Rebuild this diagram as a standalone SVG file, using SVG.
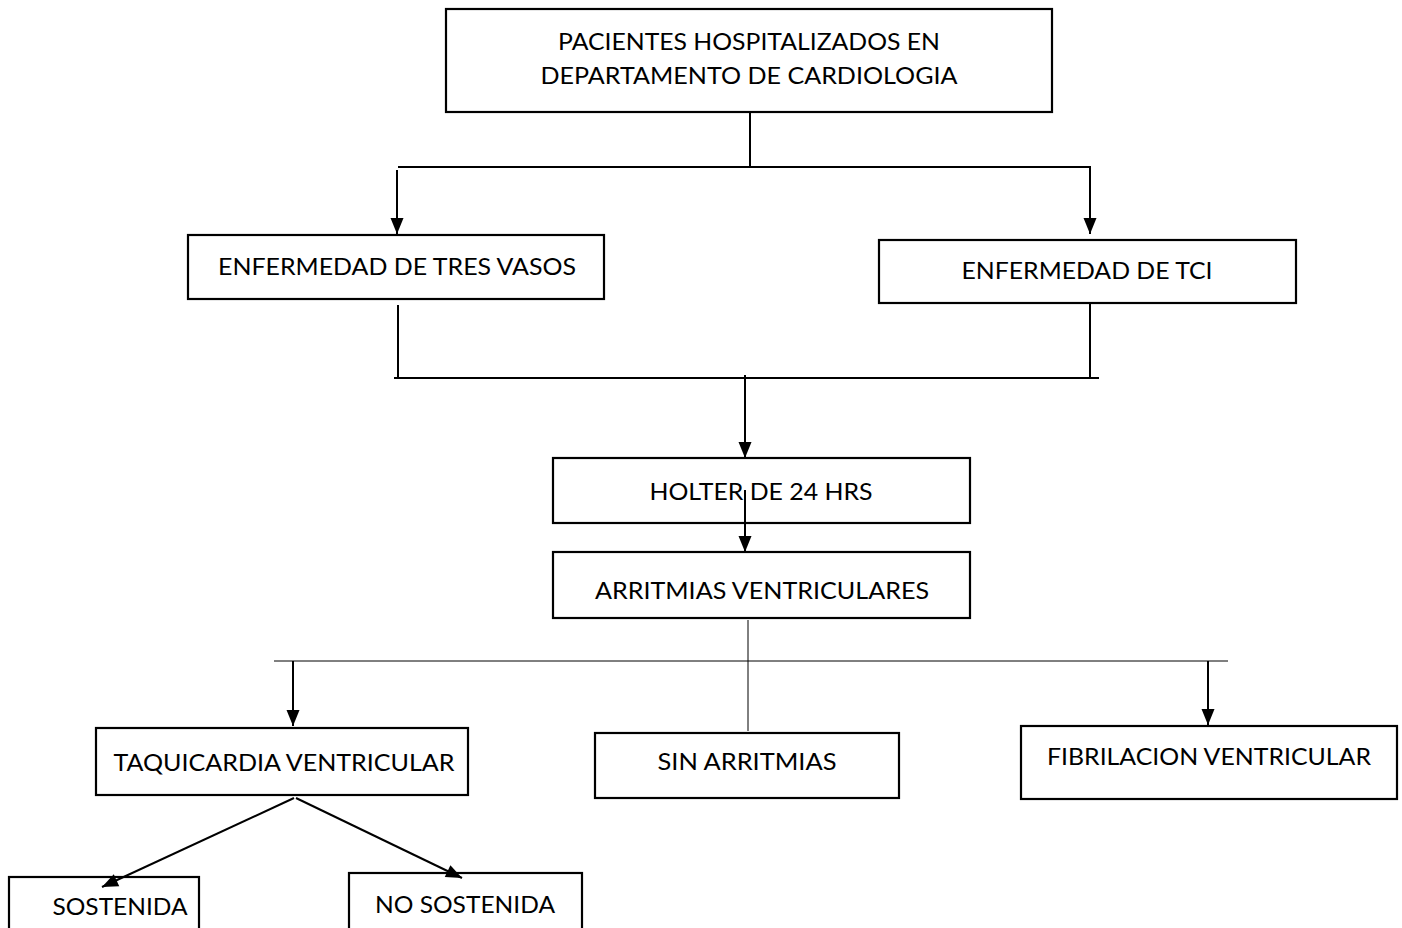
<svg xmlns="http://www.w3.org/2000/svg" width="1402" height="928" viewBox="0 0 1402 928">
<style>
.box{fill:#fff;stroke:#000;stroke-width:2.2}
.t{font-family:Lato,"Liberation Sans",sans-serif;font-size:22.5px;fill:#000;text-anchor:middle}
.c{stroke:#000;stroke-width:2;fill:none}
.thin{stroke:#000;stroke-width:1;fill:none}
</style>
<defs>
<marker id="ah" markerUnits="userSpaceOnUse" markerWidth="18" markerHeight="14" refX="16" refY="7" orient="auto" viewBox="0 0 16 14">
<path d="M0,0.5 L16,7 L0,13.5 Z" fill="#000"/>
</marker>
</defs>
<g id="n1"><rect class="box" x="446" y="9" width="606" height="103"/>
<text class="t" x="749" y="50" textLength="382" lengthAdjust="spacingAndGlyphs">PACIENTES HOSPITALIZADOS EN</text>
<text class="t" x="749" y="84" textLength="417" lengthAdjust="spacingAndGlyphs">DEPARTAMENTO DE CARDIOLOGIA</text></g>
<g id="n2"><rect class="box" x="188" y="235" width="416" height="64"/>
<text class="t" x="397" y="275" textLength="358" lengthAdjust="spacingAndGlyphs">ENFERMEDAD DE TRES VASOS</text></g>
<g id="n3"><rect class="box" x="879" y="240" width="417" height="63"/>
<text class="t" x="1087" y="279" textLength="251" lengthAdjust="spacingAndGlyphs">ENFERMEDAD DE TCI</text></g>
<g id="n4"><rect class="box" x="553" y="458" width="417" height="65"/>
<text class="t" x="761" y="500" textLength="223" lengthAdjust="spacingAndGlyphs">HOLTER DE 24 HRS</text></g>
<g id="n5"><rect class="box" x="553" y="552" width="417" height="66"/>
<text class="t" x="762" y="599" textLength="334" lengthAdjust="spacingAndGlyphs">ARRITMIAS VENTRICULARES</text></g>
<g id="n6"><rect class="box" x="96" y="728" width="372" height="67"/>
<text class="t" x="284" y="771" textLength="341" lengthAdjust="spacingAndGlyphs">TAQUICARDIA VENTRICULAR</text></g>
<g id="n7"><rect class="box" x="595" y="733" width="304" height="65"/>
<text class="t" x="747" y="770" textLength="179" lengthAdjust="spacingAndGlyphs">SIN ARRITMIAS</text></g>
<g id="n8"><rect class="box" x="1021" y="726" width="376" height="73"/>
<text class="t" x="1209" y="765" textLength="324" lengthAdjust="spacingAndGlyphs">FIBRILACION VENTRICULAR</text></g>
<g id="n9"><rect class="box" x="9" y="877" width="190" height="60"/>
<text class="t" x="120" y="915" textLength="135" lengthAdjust="spacingAndGlyphs">SOSTENIDA</text></g>
<g id="n10"><rect class="box" x="349" y="873" width="233" height="64"/>
<text class="t" x="465" y="913" textLength="180" lengthAdjust="spacingAndGlyphs">NO SOSTENIDA</text></g>
<g id="connectors">
<line class="c" x1="750" y1="112" x2="750" y2="167"/>
<line class="c" x1="398" y1="167" x2="1090" y2="167"/>
<line class="c" x1="397" y1="170" x2="397" y2="234" marker-end="url(#ah)"/>
<line class="c" x1="1090" y1="166" x2="1090" y2="234" marker-end="url(#ah)"/>
<line class="c" x1="398" y1="305" x2="398" y2="378"/>
<line class="c" x1="1090" y1="303" x2="1090" y2="377"/>
<line class="c" x1="394" y1="378" x2="1099" y2="378"/>
<line class="c" x1="745" y1="375" x2="745" y2="458" marker-end="url(#ah)"/>
<line class="c" x1="745" y1="490" x2="745" y2="552" marker-end="url(#ah)"/>
<line class="thin" x1="748" y1="620" x2="748" y2="731"/>
<line class="thin" x1="274" y1="661" x2="1228" y2="661"/>
<line class="c" x1="293" y1="661" x2="293" y2="726" marker-end="url(#ah)"/>
<line class="c" x1="1208" y1="661" x2="1208" y2="725" marker-end="url(#ah)"/>
<line class="c" x1="294" y1="798" x2="102" y2="887" marker-end="url(#ah)"/>
<line class="c" x1="296" y1="798" x2="462" y2="878" marker-end="url(#ah)"/>
</g>
</svg>
